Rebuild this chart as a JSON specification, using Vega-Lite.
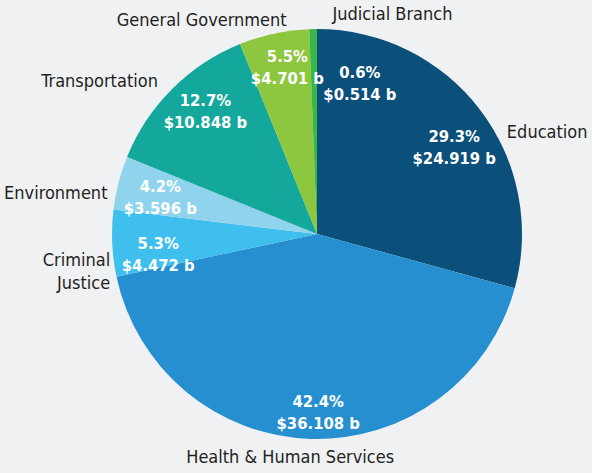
{
  "$schema": "https://vega.github.io/schema/vega-lite/v6.json",
  "width": 550,
  "height": 468,
  "autosize": {"type": "none"},
  "padding": {"left": 42, "top": 0, "right": 0, "bottom": 5},
  "background": "#f0f1f3",
  "config": {"view": {"stroke": null}, "text": {"font": "DejaVu Sans Condensed, Liberation Sans Narrow, Roboto, sans-serif"}},
  "data": {"values": [
    {"cat": "Education", "value": 24.919, "pct": "29.3%", "amt": "$24.919 b", "rank": 1},
    {"cat": "Health & Human Services", "value": 36.108, "pct": "42.4%", "amt": "$36.108 b", "rank": 2},
    {"cat": "Criminal Justice", "value": 4.472, "pct": "5.3%", "amt": "$4.472 b", "rank": 3},
    {"cat": "Environment", "value": 3.596, "pct": "4.2%", "amt": "$3.596 b", "rank": 4},
    {"cat": "Transportation", "value": 10.848, "pct": "12.7%", "amt": "$10.848 b", "rank": 5},
    {"cat": "General Government", "value": 4.701, "pct": "5.5%", "amt": "$4.701 b", "rank": 6},
    {"cat": "Judicial Branch", "value": 0.514, "pct": "0.6%", "amt": "$0.514 b", "rank": 7}
  ]},
  "encoding": {
    "theta": {"field": "value", "type": "quantitative", "stack": true},
    "order": {"field": "rank", "type": "quantitative"}
  },
  "layer": [
    {
      "mark": {"type": "arc", "outerRadius": 205, "stroke": null},
      "encoding": {
        "color": {
          "field": "cat", "type": "nominal", "legend": null,
          "scale": {
            "domain": ["Education", "Health & Human Services", "Criminal Justice", "Environment", "Transportation", "General Government", "Judicial Branch"],
            "range": ["#0b4f7b", "#258fd0", "#3fbfee", "#8fd4ec", "#14a89c", "#8dc63f", "#3ab54a"]
          }
        }
      }
    },
    {
      "mark": {"type": "text", "radius": 165, "dx": 6, "dy": 3, "fontSize": 16.5, "fontWeight": "bold", "color": "white", "baseline": "middle"},
      "encoding": {"text": {"condition": {"test": "indexof(['Education','Health & Human Services','Criminal Justice'], datum.cat) >= 0", "field": "pct"}, "value": ""}}
    },
    {
      "mark": {"type": "text", "radius": 165, "dx": 6, "dy": 25, "fontSize": 16.5, "fontWeight": "bold", "color": "white", "baseline": "middle"},
      "encoding": {"text": {"condition": {"test": "indexof(['Education','Health & Human Services','Criminal Justice'], datum.cat) >= 0", "field": "amt"}, "value": ""}}
    },
    {
      "mark": {"type": "text", "radius": 165, "dx": 5, "dy": -16, "fontSize": 16.5, "fontWeight": "bold", "color": "white", "baseline": "middle"},
      "encoding": {"text": {"condition": {"test": "indexof(['Transportation','General Government'], datum.cat) >= 0", "field": "pct"}, "value": ""}}
    },
    {
      "mark": {"type": "text", "radius": 165, "dx": 5, "dy": 6, "fontSize": 16.5, "fontWeight": "bold", "color": "white", "baseline": "middle"},
      "encoding": {"text": {"condition": {"test": "indexof(['Transportation','General Government'], datum.cat) >= 0", "field": "amt"}, "value": ""}}
    },
    {
      "mark": {"type": "text", "radius": 165, "dx": 3, "dy": -6, "fontSize": 16.5, "fontWeight": "bold", "color": "white", "baseline": "middle"},
      "encoding": {"text": {"condition": {"test": "datum.cat === 'Environment'", "field": "pct"}, "value": ""}}
    },
    {
      "mark": {"type": "text", "radius": 165, "dx": 3, "dy": 16, "fontSize": 16.5, "fontWeight": "bold", "color": "white", "baseline": "middle"},
      "encoding": {"text": {"condition": {"test": "datum.cat === 'Environment'", "field": "amt"}, "value": ""}}
    },
    {
      "mark": {"type": "text", "radius": 165, "dx": 46, "dy": 4, "fontSize": 16.5, "fontWeight": "bold", "color": "white", "baseline": "middle"},
      "encoding": {"text": {"condition": {"test": "datum.cat === 'Judicial Branch'", "field": "pct"}, "value": ""}}
    },
    {
      "mark": {"type": "text", "radius": 165, "dx": 46, "dy": 26, "fontSize": 16.5, "fontWeight": "bold", "color": "white", "baseline": "middle"},
      "encoding": {"text": {"condition": {"test": "datum.cat === 'Judicial Branch'", "field": "amt"}, "value": ""}}
    },
    {
      "mark": {"type": "text", "radius": 235, "dx": 3, "dy": 41, "fontSize": 18, "color": "#231f20", "align": "left", "baseline": "middle"},
      "encoding": {"text": {"condition": {"test": "datum.cat === 'Education'", "field": "cat"}, "value": ""}}
    },
    {
      "mark": {"type": "text", "radius": 235, "dx": -20, "dy": -11, "fontSize": 18, "color": "#231f20", "align": "center", "baseline": "middle"},
      "encoding": {"text": {"condition": {"test": "datum.cat === 'Health & Human Services'", "field": "cat"}, "value": ""}}
    },
    {
      "mark": {"type": "text", "radius": 235, "dx": 28, "dy": 17, "fontSize": 18, "color": "#231f20", "align": "right", "baseline": "middle", "lineBreak": " ", "lineHeight": 23},
      "encoding": {"text": {"condition": {"test": "datum.cat === 'Criminal Justice'", "field": "cat"}, "value": ""}}
    },
    {
      "mark": {"type": "text", "radius": 235, "dx": 18, "dy": 19, "fontSize": 18, "color": "#231f20", "align": "right", "baseline": "middle"},
      "encoding": {"text": {"condition": {"test": "datum.cat === 'Environment'", "field": "cat"}, "value": ""}}
    },
    {
      "mark": {"type": "text", "radius": 235, "dx": 7, "dy": 14, "fontSize": 18, "color": "#231f20", "align": "right", "baseline": "middle"},
      "encoding": {"text": {"condition": {"test": "datum.cat === 'Transportation'", "field": "cat"}, "value": ""}}
    },
    {
      "mark": {"type": "text", "radius": 235, "dx": 19, "dy": 17, "fontSize": 18, "color": "#231f20", "align": "right", "baseline": "middle"},
      "encoding": {"text": {"condition": {"test": "datum.cat === 'General Government'", "field": "cat"}, "value": ""}}
    },
    {
      "mark": {"type": "text", "radius": 235, "dx": 20, "dy": 16, "fontSize": 18, "color": "#231f20", "align": "left", "baseline": "middle"},
      "encoding": {"text": {"condition": {"test": "datum.cat === 'Judicial Branch'", "field": "cat"}, "value": ""}}
    }
  ]
}
